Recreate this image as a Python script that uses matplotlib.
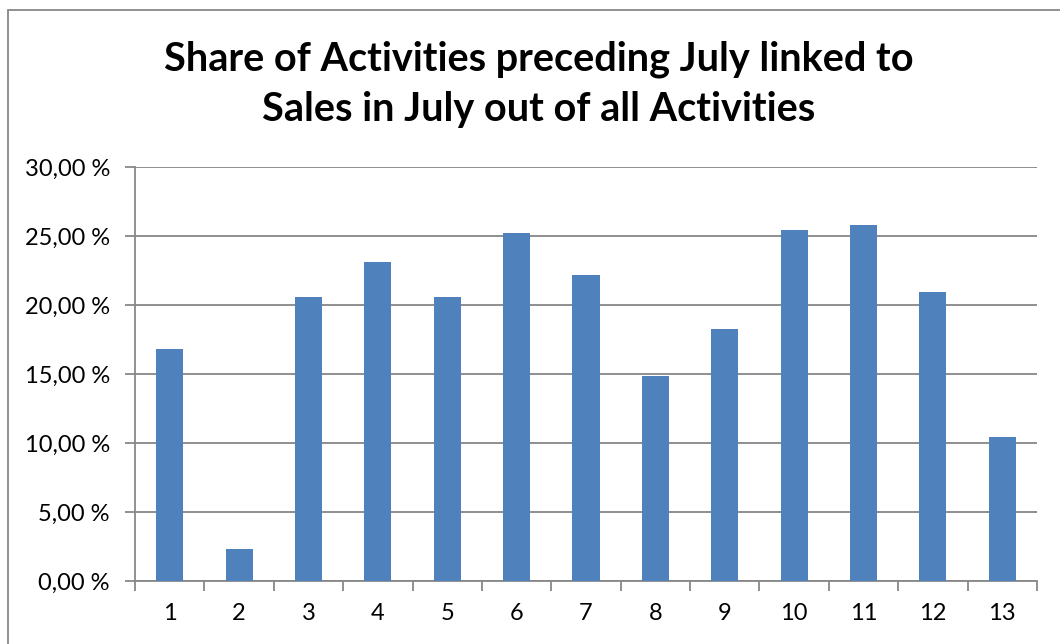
import matplotlib
matplotlib.use("Agg")
import matplotlib.pyplot as plt
from matplotlib.patches import Rectangle
from matplotlib.ticker import FuncFormatter, MultipleLocator

categories = [str(i) for i in range(1, 14)]
shares = [16.8, 2.3, 20.55, 23.15, 20.55, 25.25, 22.2, 14.85, 18.25, 25.45, 25.8, 20.95, 10.4]

title = "Share of Activities preceding July linked to\nSales in July out of all Activities"

plt.rcParams['font.family'] = ['Lato', 'DejaVu Sans']

fig = plt.figure(figsize=(10.6, 6.44), dpi=100)
ax = fig.add_axes([135 / 1060, 1 - 581 / 644, (1037 - 135) / 1060, (581 - 167) / 644])

# chart frame
fig.patches.append(Rectangle((8 / 1060, -0.05), 1.1, 1 - 10 / 644 + 0.05,
                             transform=fig.transFigure, fill=False,
                             edgecolor='#888888', linewidth=1.3))

x = range(len(categories))
ax.bar(x, shares, width=0.39, color='#4F81BD', zorder=3)

ax.set_xlim(-0.5, len(categories) - 0.5)
ax.set_ylim(0, 30)
ax.yaxis.set_major_locator(MultipleLocator(5))
ax.yaxis.set_major_formatter(FuncFormatter(lambda v, p: f"{v:.2f} %".replace('.', ',')))
ax.set_xticks(list(x))
ax.set_xticklabels(categories)
ax.set_xticks([i - 0.5 for i in range(len(categories) + 1)], minor=True)
ax.tick_params(axis='x', which='major', length=0, pad=16, labelsize=17)
ax.tick_params(axis='x', which='minor', length=7, width=1.3, color='#888888', direction='out')
ax.tick_params(axis='y', length=7, width=1.3, color='#888888', labelsize=17, pad=11)

ax.grid(axis='y', color='#868686', linewidth=1.3, zorder=0)
for side in ('top', 'right'):
    ax.spines[side].set_visible(False)
for side in ('left', 'bottom'):
    ax.spines[side].set_color('#888888')
    ax.spines[side].set_linewidth(1.3)

fig.text(0.508, 1 - 84 / 644, title, ha='center', va='center',
         fontsize=28.5, fontweight='bold', linespacing=1.45)

fig.savefig("out.png", dpi=100)
